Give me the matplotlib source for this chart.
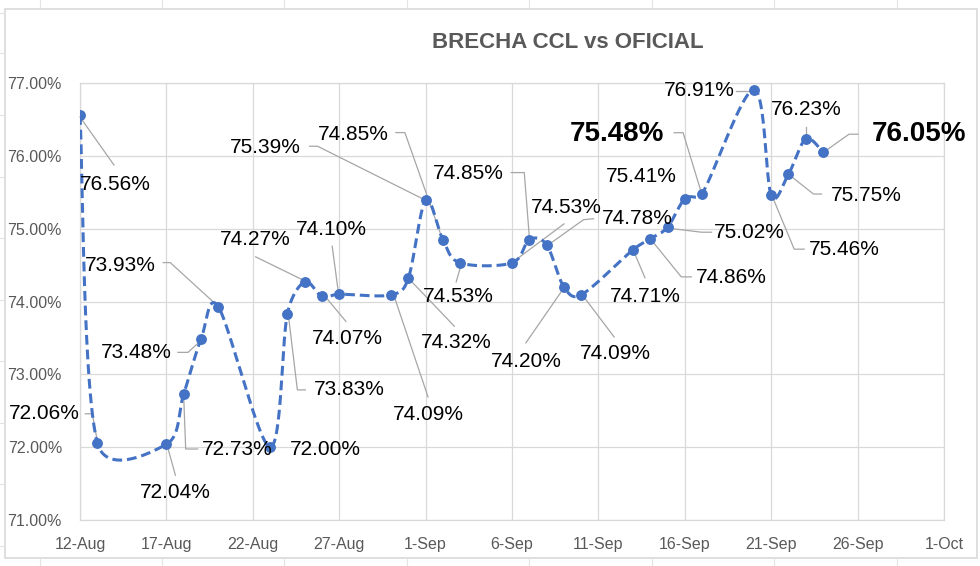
import matplotlib
matplotlib.use("Agg")
import matplotlib.pyplot as plt
import matplotlib.dates as mdates
from matplotlib.lines import Line2D
from matplotlib.patches import Rectangle
from matplotlib.transforms import IdentityTransform
import numpy as np
from datetime import datetime

# ---------------- data ----------------
dates = ["2021-08-12", "2021-08-13", "2021-08-17", "2021-08-18", "2021-08-19",
         "2021-08-20", "2021-08-23", "2021-08-24", "2021-08-25", "2021-08-26",
         "2021-08-27", "2021-08-30", "2021-08-31", "2021-09-01", "2021-09-02",
         "2021-09-03", "2021-09-06", "2021-09-07", "2021-09-08", "2021-09-09",
         "2021-09-10", "2021-09-13", "2021-09-14", "2021-09-15", "2021-09-16",
         "2021-09-17", "2021-09-20", "2021-09-21", "2021-09-22", "2021-09-23",
         "2021-09-24"]
values = [76.56, 72.06, 72.04, 72.73, 73.48,
          73.93, 72.00, 73.83, 74.27, 74.07,
          74.10, 74.09, 74.32, 75.39, 74.85,
          74.53, 74.53, 74.85, 74.78, 74.20,
          74.09, 74.71, 74.86, 75.02, 75.41,
          75.48, 76.91, 75.46, 75.75, 76.23,
          76.05]
highlight_dates = ["2021-09-17", "2021-09-24"]
tick_dates = ["2021-08-12", "2021-08-17", "2021-08-22", "2021-08-27", "2021-09-01",
              "2021-09-06", "2021-09-11", "2021-09-16", "2021-09-21", "2021-09-26",
              "2021-10-01"]
tick_labels = ["12-Aug", "17-Aug", "22-Aug", "27-Aug", "1-Sep", "6-Sep", "11-Sep",
               "16-Sep", "21-Sep", "26-Sep", "1-Oct"]
y_ticks = [71, 72, 73, 74, 75, 76, 77]
title = "BRECHA CCL vs OFICIAL"

# ------------- label layout (pixel offsets from point, image y-down) -------------
label_offsets = [(35, 69), (-53, -29), (9, 48), (54, 56), (-65, 13),
                 (-98, -41), (55, 2), (62, 76), (-49, -42), (25, 42),
                 (-8, -65), (37, 120), (48, 64), (-160, -53), (-90, -105),
                 (-2, 34), (54, -55), (-61, -66), (91, -26), (-38, 75),
                 (34, 59), (12, 47), (81, 39), (82, 5), (-43, -22),
                 (-85, -60), (-55, 1), (73, 54), (78, 21), (0, -30),
                 (96, -18)]
leaders = [[(0, 2), (34, 50)],
           [(-12, -29), (-5, -29), (0, -2)],
           [(1, 2), (9, 31)],
           [(0, 2), (2, 55), (14, 55)],
           [(-23, 13), (-13, 13), (-1, 2)],
           [(-55, -44), (-48, -44), (-2, -2)],
           [],
           [(1, 1), (10, 76), (18, 76)],
           [(-49, -25), (-2, -2)],
           [(4, 1), (24, 25)],
           [(-7, -48), (-1, -3)],
           [(3, 1), (37, 102)],
           [(1, 1), (46, 48)],
           [(-116, -54), (-108, -54), (-2, -1)],
           [(-47, -107), (-38, -107), (-1, -2)],
           [(1, 2), (-4, 19)],
           [(1, -1), (52, -39)],
           [(-18, -67), (-5, -67), (0, -3)],
           [(2, 0), (37, -25), (47, -26)],
           [(-38, 56), (0, 1)],
           [(2, 1), (33, 42)],
           [(1, 2), (12, 28)],
           [(1, 1), (31, 38), (41, 38)],
           [(1, 1), (34, 5), (44, 5)],
           [],
           [(-28, -61), (-19, -61), (-1, -2)],
           [(-18, 1), (-5, 1)],
           [(1, 1), (23, 54), (33, 54)],
           [(1, 1), (25, 20), (33, 20)],
           [(0, -12), (0, -3)],
           [(2, -1), (26, -18), (35, -18)]]

FONT = "Liberation Sans"
W, H, DPI = 980, 566, 100
fig = plt.figure(figsize=(W / DPI, H / DPI), dpi=DPI)
fig.patch.set_facecolor("white")

ax = fig.add_axes([80 / W, 1 - 520 / H, (944 - 80) / W, (520 - 83) / H])

x = mdates.date2num([datetime.strptime(d, "%Y-%m-%d") for d in dates])
y = np.array(values)

xt = mdates.date2num([datetime.strptime(d, "%Y-%m-%d") for d in tick_dates])
ax.set_xlim(xt[0], xt[-1])
ax.set_ylim(71, 77)

# Excel-like smoothed line (Bezier with clamped control points, in screen space)
P = ax.transData.transform(np.column_stack([x, y]))
Pext = np.vstack([P[0], P, P[-1]])
curve = []
t = np.linspace(0, 1, 50)[:, None]
for i in range(len(P) - 1):
    p0, p1, p2, p3 = Pext[i], Pext[i + 1], Pext[i + 2], Pext[i + 3]
    d02 = np.hypot(*(p2 - p0))
    d12 = np.hypot(*(p2 - p1))
    d13 = np.hypot(*(p3 - p1))
    f1 = 1 / 6 if (d02 / 6 < d12 / 2 or d02 == 0) else d12 / (2 * d02)
    f2 = 1 / 6 if (d13 / 6 < d12 / 2 or d13 == 0) else d12 / (2 * d13)
    c1 = p1 + (p2 - p0) * f1
    c2 = p2 - (p3 - p1) * f2
    seg = ((1 - t) ** 3) * p1 + 3 * ((1 - t) ** 2) * t * c1 + 3 * (1 - t) * t ** 2 * c2 + t ** 3 * p2
    curve.append(seg if i == 0 else seg[1:])
curve = ax.transData.inverted().transform(np.vstack(curve))

blue = "#4472C4"
ax.plot(curve[:, 0], curve[:, 1], color=blue, lw=2.2, linestyle=(0, (3.2, 1.6)),
        zorder=3, dash_capstyle="butt")
ax.plot(x, y, "o", color=blue, markersize=6.8, zorder=4)

ax.set_xticks(xt)
ax.set_xticklabels(tick_labels)
ax.set_yticks(y_ticks)
ax.set_yticklabels([f"{v:.2f}%" for v in y_ticks])
ax.grid(True, color="#d9d9d9", lw=0.9)
ax.set_axisbelow(True)
for s in ax.spines.values():
    s.set_color("#d9d9d9")
    s.set_linewidth(0.9)
ax.tick_params(length=0, labelsize=11.5, labelcolor="#595959")
ax.tick_params(axis="x", pad=12)
ax.tick_params(axis="y", pad=13)
for lab in ax.get_xticklabels() + ax.get_yticklabels():
    lab.set_fontfamily(FONT)

# labels & leader lines
pts_disp = P
for i, (d, v) in enumerate(zip(dates, values)):
    px, py = pts_disp[i]
    dx, dy = label_offsets[i]
    bold = d in highlight_dates
    ax.annotate(f"{v:.2f}%", xy=(x[i], v), xytext=(dx, -dy), textcoords="offset pixels",
                ha="center", va="center", fontsize=20 if bold else 15,
                fontweight="bold" if bold else "normal", color="black",
                family=FONT, zorder=6, annotation_clip=False)
    if leaders[i]:
        lx = [px + a for a, b in leaders[i]]
        ly = [py - b for a, b in leaders[i]]
        ln = Line2D(lx, ly, transform=IdentityTransform(), color="#a6a6a6", lw=0.9,
                    zorder=2.5, clip_on=False)
        ax.add_artist(ln)

fig.text(568 / W, 1 - 43 / H, title, ha="center", va="center", fontsize=16,
         fontweight="bold", color="#595959", family=FONT)

# chart border
fig.add_artist(Rectangle((5 / W, 1 - 558 / H), (977 - 5) / W, (558 - 9) / H,
                         transform=fig.transFigure, fill=False, ec="#d9d9d9", lw=1.2))
# spreadsheet grid fragments
for gx in [40, 162, 284, 407, 529, 652, 774, 897]:
    fig.add_artist(Line2D([gx / W, gx / W], [1 - 9 / H, 1.0], transform=fig.transFigure,
                          color="#e3e3e3", lw=0.8))
    fig.add_artist(Line2D([gx / W, gx / W], [0, 1 - 558 / H], transform=fig.transFigure,
                          color="#e3e3e3", lw=0.8))
for gy in [13, 53, 115, 177, 238, 300, 361, 423, 484, 546]:
    fig.add_artist(Line2D([0, 5 / W], [1 - gy / H, 1 - gy / H], transform=fig.transFigure,
                          color="#e3e3e3", lw=0.8))

fig.savefig("out.png", dpi=DPI, facecolor="white")
